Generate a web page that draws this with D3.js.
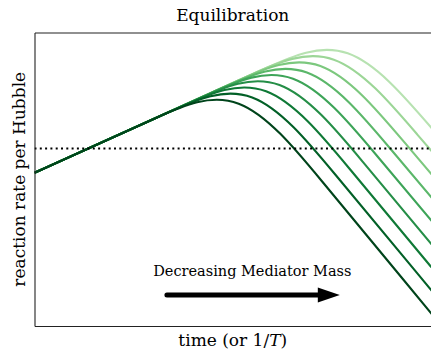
<!DOCTYPE html>
<html>
<head>
<meta charset="utf-8">
<script src="https://cdn.jsdelivr.net/npm/d3@7"></script>
<style>
  body { margin: 0; background: #fff; }
  text { font-family: "DejaVu Serif", serif; fill: #000; }
</style>
</head>
<body>
<div id="chart"></div>
<script>
// shared rising part starts here (x, y in plot units, 0..100 on both axes)
var startPoint = [0, 52.2];
// knee of each curve (where the two straight parts would meet), darkest first
var kneeX = [51.5, 54.9, 58.4, 61.8, 65.2, 68.7, 72.1, 75.5, 79.0];
var kneeY = [83.6, 85.7, 87.8, 89.9, 92.0, 94.1, 96.3, 98.4, 100.5];
// value of each curve at the right edge (x = 100)
var edgeY = [4.4, 12.3, 20.2, 28.1, 36.1, 44.0, 51.9, 59.8, 67.7];
var equilibrium = 60.5;
var arrowFrom = [33.4, 10.6], arrowTo = [77.0, 10.6];
var arrowLabel = "Decreasing Mediator Mass";

const W = 431, H = 353;
const margin = {top: 32.5, right: 0, bottom: 27, left: 34.5},
      width = W - margin.left - margin.right,
      height = H - margin.top - margin.bottom;

var svg = d3.select("#chart")
  .append("svg")
  .attr("width", W)
  .attr("height", H)
  .append("g")
  .attr("transform", "translate(" + margin.left + "," + margin.top + ")");

var x = d3.scaleLinear().domain([0, 100]).range([0, width]);
var y = d3.scaleLinear().domain([0, 100]).range([height, 0]);

svg.append("clipPath")
  .attr("id", "plotClip")
  .append("rect")
  .attr("width", width)
  .attr("height", height);

var color = function(i) { return d3.interpolateGreens(1 - i * 0.0875); };

// control polygon: straight rise, knee, straight fall; curveBasis rounds the knee
function kneePoints(i) {
  var c = [kneeX[i], kneeY[i]], a = startPoint, e = [100, edgeY[i]];
  var bend = 21;
  function along(p, t) { return [c[0] + (p[0] - c[0]) * t, c[1] + (p[1] - c[1]) * t]; }
  var tl = bend / (c[0] - a[0]), tr = bend / (e[0] - c[0]);
  return [a, along(a, 2 * tl), along(a, tl), c, along(e, tr), along(e, 2 * tr), along(e, 60 / (e[0] - c[0]))];
}

var line = d3.line()
  .x(function(d) { return x(d[0]); })
  .y(function(d) { return y(d[1]); })
  .curve(d3.curveBasis);

var plot = svg.append("g").attr("clip-path", "url(#plotClip)");

var order = d3.range(kneeX.length).reverse();
plot.selectAll(".curve")
  .data(order)
  .enter()
  .append("path")
  .attr("class", "curve")
  .attr("d", function(i) { return line(kneePoints(i)); })
  .style("fill", "none")
  .style("stroke", function(i) { return color(i); })
  .style("stroke-width", 2.1);

plot.append("line")
  .attr("x1", x(0))
  .attr("x2", x(100))
  .attr("y1", y(equilibrium))
  .attr("y2", y(equilibrium))
  .style("stroke", "#000")
  .style("stroke-width", 2)
  .style("stroke-dasharray", "2,3.3");

// arrow
var headLen = 22, headHalf = 7.5;
svg.append("line")
  .attr("x1", x(arrowFrom[0]))
  .attr("y1", y(arrowFrom[1]))
  .attr("x2", x(arrowTo[0]) - headLen + 2)
  .attr("y2", y(arrowTo[1]))
  .style("stroke", "#000")
  .style("stroke-width", 5)
  .style("stroke-linecap", "round");
svg.append("path")
  .attr("d", "M" + x(arrowTo[0]) + "," + y(arrowTo[1]) +
             "L" + (x(arrowTo[0]) - headLen) + "," + (y(arrowTo[1]) - headHalf) +
             "L" + (x(arrowTo[0]) - headLen) + "," + (y(arrowTo[1]) + headHalf) + "Z")
  .style("fill", "#000");

svg.append("text")
  .attr("x", x((arrowFrom[0] + arrowTo[0]) / 2) - 1)
  .attr("y", y(arrowFrom[1]) - 19)
  .attr("text-anchor", "middle")
  .style("font-size", "14.5px")
  .text(arrowLabel);

// spines (no ticks)
svg.append("g")
  .attr("class", "axis-x")
  .attr("transform", "translate(0," + height + ")")
  .call(d3.axisBottom(x).tickValues([]).tickSizeOuter(0));
svg.append("g")
  .attr("class", "axis-top")
  .call(d3.axisTop(x).tickValues([]).tickSizeOuter(0));
svg.append("g")
  .attr("class", "axis-y")
  .call(d3.axisLeft(y).tickValues([]).tickSizeOuter(0));
svg.selectAll(".domain").style("stroke", "#222").style("stroke-width", 1.1);

svg.append("text")
  .attr("x", width / 2)
  .attr("y", -11.5)
  .attr("text-anchor", "middle")
  .style("font-size", "17px")
  .text("Equilibration");

var xl = svg.append("text")
  .attr("x", width / 2)
  .attr("y", height + 20)
  .attr("text-anchor", "middle")
  .style("font-size", "17px");
xl.append("tspan").text("time (or 1/");
xl.append("tspan").style("font-style", "italic").text("T");
xl.append("tspan").text(")");

svg.append("text")
  .attr("transform", "translate(" + (-9.5) + "," + (height / 2) + ") rotate(-90)")
  .attr("text-anchor", "middle")
  .style("font-size", "17px")
  .text("reaction rate per Hubble");
</script>
</body>
</html>
